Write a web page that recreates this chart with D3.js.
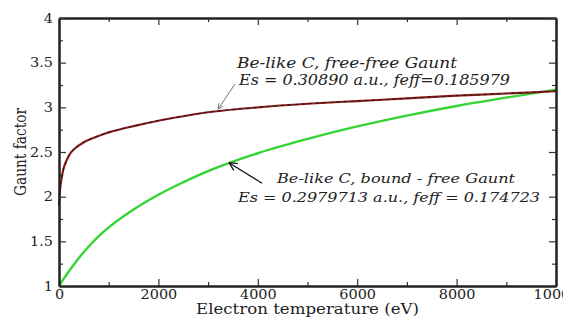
<!DOCTYPE html>
<html><head><meta charset="utf-8">
<script src="https://cdn.jsdelivr.net/npm/d3@7/dist/d3.min.js"></script>
<style>
body{margin:0;background:#fff}
svg text{font-family:'DejaVu Serif',serif !important;fill:#222}
</style>
</head><body>
<svg id="chart" width="563" height="320"></svg>
<script>
// ---- data ----
const temperature = [0, 25, 50, 100, 200, 300, 500, 750, 1000, 1500, 2000, 2500, 3000, 4000, 5000, 6000, 7000, 8000, 9000, 10000];
const freeFreeGaunt = [1.90, 2.10, 2.20, 2.33, 2.46, 2.53, 2.61, 2.67, 2.72, 2.79, 2.85, 2.90, 2.945, 3.00, 3.04, 3.07, 3.10, 3.13, 3.155, 3.18];
const boundFreeGaunt = [1.00, 1.021, 1.043, 1.085, 1.165, 1.241, 1.381, 1.531, 1.656, 1.856, 2.021, 2.161, 2.286, 2.486, 2.646, 2.786, 2.908, 3.015, 3.108, 3.198];
const xMajorTicks = [0, 2000, 4000, 6000, 8000, 10000];
const xMinorTicks = [1000, 3000, 5000, 7000, 9000];
const yMajorTicks = [1, 1.5, 2, 2.5, 3, 3.5, 4];
const yMinorTicks = [1.25, 1.75, 2.25, 2.75, 3.25, 3.75];
const yTickLabels = ["1", "1.5", "2", "2.5", "3", "3.5", "4"];
const xTickLabels = ["0", "2000", "4000", "6000", "8000", "10000"];
const xTitle = "Electron temperature (eV)";
const yTitle = "Gaunt factor";
const note1 = ["Be-like C, free-free Gaunt", "Es = 0.30890 a.u., feff=0.185979"];
const note2 = ["Be-like C, bound - free Gaunt", "Es = 0.2979713 a.u., feff = 0.174723"];
// arrows in data coordinates: [tailT, tailG, tipT, tipG]
const arrow1 = [3540, 3.26, 3200, 2.98];
const arrow2 = [4085, 2.15, 3420, 2.38];

// ---- layout ----
const L = 59, R = 556, T = 18, B = 286;
const STRETCH = 1.2;
const svg = d3.select("#chart");
const x = d3.scaleLinear().domain([0, 10000]).range([L, R]);
const y = d3.scaleLinear().domain([1, 4]).range([B, T]);

function stretchText(sel, f) {
  sel.each(function() {
    const n = this.getComputedTextLength();
    d3.select(this).attr("textLength", n * (f || STRETCH)).attr("lengthAdjust", "spacingAndGlyphs");
  });
}

// curves
const line = d3.line().curve(d3.curveCatmullRom.alpha(0.5));
const bfPts = temperature.map((t, i) => [x(t), y(boundFreeGaunt[i])]);
const ffPts = temperature.map((t, i) => [x(t), y(freeFreeGaunt[i])]);
svg.append("path").attr("d", line(bfPts)).attr("fill", "none").attr("stroke", "#35d435").attr("stroke-width", 2.4);
svg.append("path").attr("d", line(ffPts)).attr("fill", "none").attr("stroke", "#8a1c1c").attr("stroke-width", 2.2);
svg.append("path").attr("d", line(ffPts)).attr("fill", "none").attr("stroke", "#111").attr("stroke-width", 0.9).attr("stroke-dasharray", "3,4");

// axes helper
function drawAxis(gen, transform, ticks, size, labels) {
  const g = svg.append("g").attr("transform", transform)
    .call(gen.tickValues(ticks).tickSizeInner(-size).tickSizeOuter(0).tickFormat((d, i) => labels ? labels[i] : ""));
  g.attr("font-family", null);
  g.select(".domain").attr("stroke", "#222").attr("stroke-width", 2);
  g.selectAll(".tick line").attr("stroke", "#333").attr("stroke-width", 1.2);
  return g;
}
// minor ticks
drawAxis(d3.axisBottom(x), `translate(0,${B})`, xMinorTicks, 4);
drawAxis(d3.axisTop(x), `translate(0,${T})`, xMinorTicks, 4);
drawAxis(d3.axisLeft(y), `translate(${L},0)`, yMinorTicks, 4);
drawAxis(d3.axisRight(y), `translate(${R},0)`, yMinorTicks, 4);
// major ticks
const gx = drawAxis(d3.axisBottom(x), `translate(0,${B})`, xMajorTicks, 7, xTickLabels);
drawAxis(d3.axisTop(x), `translate(0,${T})`, xMajorTicks, 7);
const gy = drawAxis(d3.axisLeft(y), `translate(${L},0)`, yMajorTicks, 7, yTickLabels);
drawAxis(d3.axisRight(y), `translate(${R},0)`, yMajorTicks, 7);

gx.selectAll(".tick text").attr("y", 13).attr("dy", 0).style("font-size", "12px").attr("fill", "#222").call(stretchText);
gy.selectAll(".tick text").attr("x", -6).attr("dy", "0.35em").style("font-size", "12px").attr("fill", "#222").call(stretchText);

// titles
svg.append("text").attr("x", (L + R) / 2).attr("y", 314).attr("text-anchor", "middle")
  .style("font-size", "14px").text(xTitle).attr("textLength", 223).attr("lengthAdjust", "spacingAndGlyphs");
svg.append("text").attr("transform", `translate(26,${(T + B) / 2}) rotate(-90) scale(1,1.15)`).attr("text-anchor", "middle")
  .style("font-size", "14px").text(yTitle).attr("textLength", 88).attr("lengthAdjust", "spacingAndGlyphs");

// annotations
function note(lines, specs) {
  lines.forEach((s, i) => {
    const sp = specs[i];
    svg.append("text").attr("x", sp[0]).attr("y", sp[1]).style("font-style", "italic")
      .style("font-size", sp[2] + "px").text(s).attr("textLength", sp[3]).attr("lengthAdjust", "spacingAndGlyphs");
  });
}
note(note1, [[237, 68, 14, 220], [239, 85, 14, 271]]);
note(note2, [[277, 183, 13, 238], [238, 202, 13, 302]]);

function arrow(a, color, w, head) {
  const x1 = x(a[0]), y1 = y(a[1]), x2 = x(a[2]), y2 = y(a[3]);
  svg.append("line").attr("x1", x1).attr("y1", y1).attr("x2", x2).attr("y2", y2)
    .attr("stroke", color).attr("stroke-width", w);
  const ang = Math.atan2(y1 - y2, x1 - x2);
  [-0.45, 0.45].forEach(d => {
    svg.append("line").attr("x1", x2).attr("y1", y2)
      .attr("x2", x2 + head * Math.cos(ang + d)).attr("y2", y2 + head * Math.sin(ang + d))
      .attr("stroke", color).attr("stroke-width", w);
  });
}
arrow(arrow1, "#777", 1, 6);
arrow(arrow2, "#111", 1.3, 9);
</script>
</body></html>
